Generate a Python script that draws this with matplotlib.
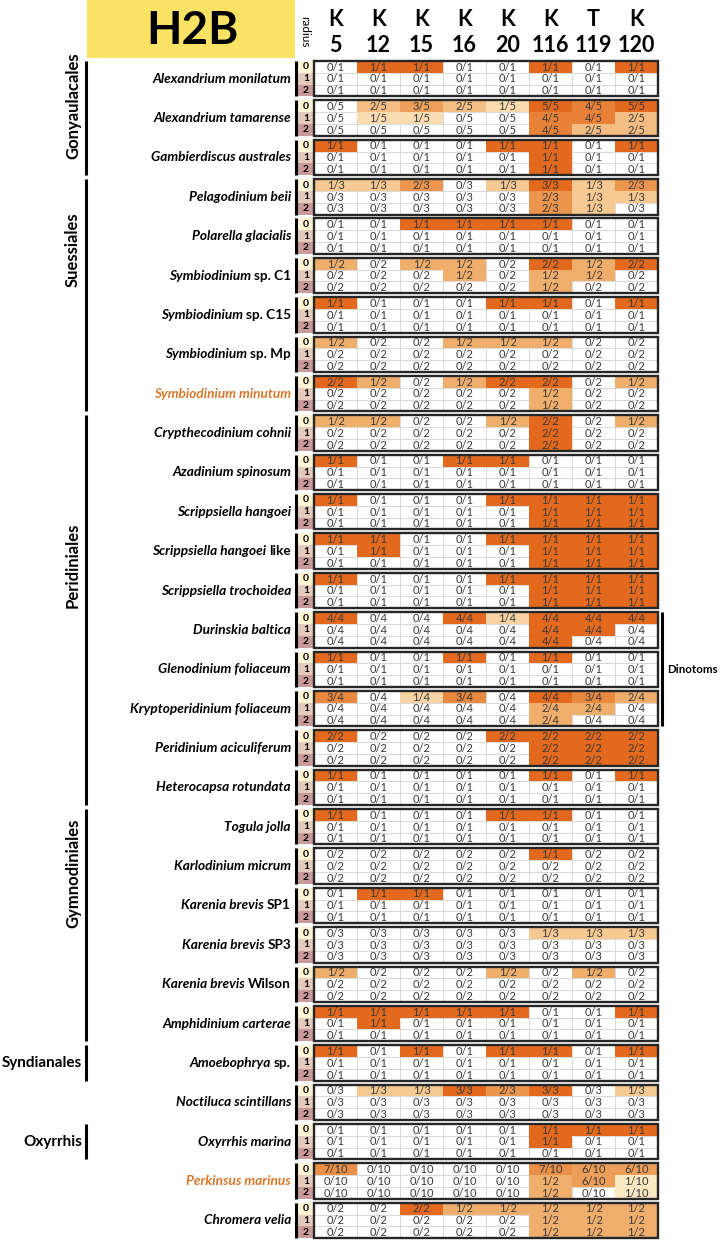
import matplotlib
matplotlib.use('Agg')
import matplotlib.pyplot as plt
from matplotlib.patches import Rectangle
from matplotlib.colors import LinearSegmentedColormap

plt.rcParams['font.family'] = ['Lato', 'DejaVu Sans']

# ---------------- data ----------------
title = "H2B"
residues = ['K', 'K', 'K', 'K', 'K', 'K', 'T', 'K']
positions = ['5', '12', '15', '16', '20', '116', '119', '120']
radius_labels = ['0', '1', '2']

# (italic part, upright part)
species_names = [
    ("Alexandrium monilatum", ""),
    ("Alexandrium tamarense", ""),
    ("Gambierdiscus australes", ""),
    ("Pelagodinium beii", ""),
    ("Polarella glacialis", ""),
    ("Symbiodinium", "sp. C1"),
    ("Symbiodinium", "sp. C15"),
    ("Symbiodinium", "sp. Mp"),
    ("Symbiodinium minutum", ""),
    ("Crypthecodinium cohnii", ""),
    ("Azadinium spinosum", ""),
    ("Scrippsiella hangoei", ""),
    ("Scrippsiella hangoei", "like"),
    ("Scrippsiella trochoidea", ""),
    ("Durinskia baltica", ""),
    ("Glenodinium foliaceum", ""),
    ("Kryptoperidinium foliaceum", ""),
    ("Peridinium aciculiferum", ""),
    ("Heterocapsa rotundata", ""),
    ("Togula jolla", ""),
    ("Karlodinium micrum", ""),
    ("Karenia brevis", "SP1"),
    ("Karenia brevis", "SP3"),
    ("Karenia brevis", "Wilson"),
    ("Amphidinium carterae", ""),
    ("Amoebophrya", "sp."),
    ("Noctiluca scintillans", ""),
    ("Oxyrrhis marina", ""),
    ("Perkinsus marinus", ""),
    ("Chromera velia", ""),
]
highlighted = ["Symbiodinium minutum", "Perkinsus marinus"]

cells = [
    ["0/1 1/1 1/1 0/1 0/1 1/1 0/1 1/1", "0/1 0/1 0/1 0/1 0/1 0/1 0/1 0/1", "0/1 0/1 0/1 0/1 0/1 0/1 0/1 0/1"],
    ["0/5 2/5 3/5 2/5 1/5 5/5 4/5 5/5", "0/5 1/5 1/5 0/5 0/5 4/5 4/5 2/5", "0/5 0/5 0/5 0/5 0/5 4/5 2/5 2/5"],
    ["1/1 0/1 0/1 0/1 1/1 1/1 0/1 1/1", "0/1 0/1 0/1 0/1 0/1 1/1 0/1 0/1", "0/1 0/1 0/1 0/1 0/1 1/1 0/1 0/1"],
    ["1/3 1/3 2/3 0/3 1/3 3/3 1/3 2/3", "0/3 0/3 0/3 0/3 0/3 2/3 1/3 1/3", "0/3 0/3 0/3 0/3 0/3 2/3 1/3 0/3"],
    ["0/1 0/1 1/1 1/1 1/1 1/1 0/1 0/1", "0/1 0/1 0/1 0/1 0/1 0/1 0/1 0/1", "0/1 0/1 0/1 0/1 0/1 0/1 0/1 0/1"],
    ["1/2 0/2 1/2 1/2 0/2 2/2 1/2 2/2", "0/2 0/2 0/2 1/2 0/2 1/2 1/2 0/2", "0/2 0/2 0/2 0/2 0/2 1/2 0/2 0/2"],
    ["1/1 0/1 0/1 0/1 1/1 1/1 0/1 1/1", "0/1 0/1 0/1 0/1 0/1 0/1 0/1 0/1", "0/1 0/1 0/1 0/1 0/1 0/1 0/1 0/1"],
    ["1/2 0/2 0/2 1/2 1/2 1/2 0/2 0/2", "0/2 0/2 0/2 0/2 0/2 0/2 0/2 0/2", "0/2 0/2 0/2 0/2 0/2 0/2 0/2 0/2"],
    ["2/2 1/2 0/2 1/2 2/2 2/2 0/2 1/2", "0/2 0/2 0/2 0/2 0/2 1/2 0/2 0/2", "0/2 0/2 0/2 0/2 0/2 1/2 0/2 0/2"],
    ["1/2 1/2 0/2 0/2 1/2 2/2 0/2 1/2", "0/2 0/2 0/2 0/2 0/2 2/2 0/2 0/2", "0/2 0/2 0/2 0/2 0/2 2/2 0/2 0/2"],
    ["1/1 0/1 0/1 1/1 1/1 0/1 0/1 0/1", "0/1 0/1 0/1 0/1 0/1 0/1 0/1 0/1", "0/1 0/1 0/1 0/1 0/1 0/1 0/1 0/1"],
    ["1/1 0/1 0/1 0/1 1/1 1/1 1/1 1/1", "0/1 0/1 0/1 0/1 0/1 1/1 1/1 1/1", "0/1 0/1 0/1 0/1 0/1 1/1 1/1 1/1"],
    ["1/1 1/1 0/1 0/1 1/1 1/1 1/1 1/1", "0/1 1/1 0/1 0/1 0/1 1/1 1/1 1/1", "0/1 0/1 0/1 0/1 0/1 1/1 1/1 1/1"],
    ["1/1 0/1 0/1 0/1 1/1 1/1 1/1 1/1", "0/1 0/1 0/1 0/1 0/1 1/1 1/1 1/1", "0/1 0/1 0/1 0/1 0/1 1/1 1/1 1/1"],
    ["4/4 0/4 0/4 4/4 1/4 4/4 4/4 4/4", "0/4 0/4 0/4 0/4 0/4 4/4 4/4 0/4", "0/4 0/4 0/4 0/4 0/4 4/4 0/4 0/4"],
    ["1/1 0/1 0/1 1/1 0/1 1/1 0/1 0/1", "0/1 0/1 0/1 0/1 0/1 0/1 0/1 0/1", "0/1 0/1 0/1 0/1 0/1 0/1 0/1 0/1"],
    ["3/4 0/4 1/4 3/4 0/4 4/4 3/4 2/4", "0/4 0/4 0/4 0/4 0/4 2/4 2/4 0/4", "0/4 0/4 0/4 0/4 0/4 2/4 0/4 0/4"],
    ["2/2 0/2 0/2 0/2 2/2 2/2 2/2 2/2", "0/2 0/2 0/2 0/2 0/2 2/2 2/2 2/2", "0/2 0/2 0/2 0/2 0/2 2/2 2/2 2/2"],
    ["1/1 0/1 0/1 0/1 0/1 1/1 0/1 1/1", "0/1 0/1 0/1 0/1 0/1 0/1 0/1 0/1", "0/1 0/1 0/1 0/1 0/1 0/1 0/1 0/1"],
    ["1/1 0/1 0/1 0/1 1/1 1/1 0/1 0/1", "0/1 0/1 0/1 0/1 0/1 0/1 0/1 0/1", "0/1 0/1 0/1 0/1 0/1 0/1 0/1 0/1"],
    ["0/2 0/2 0/2 0/2 0/2 1/1 0/2 0/2", "0/2 0/2 0/2 0/2 0/2 0/2 0/2 0/2", "0/2 0/2 0/2 0/2 0/2 0/2 0/2 0/2"],
    ["0/1 1/1 1/1 0/1 0/1 0/1 0/1 0/1", "0/1 0/1 0/1 0/1 0/1 0/1 0/1 0/1", "0/1 0/1 0/1 0/1 0/1 0/1 0/1 0/1"],
    ["0/3 0/3 0/3 0/3 0/3 1/3 1/3 1/3", "0/3 0/3 0/3 0/3 0/3 0/3 0/3 0/3", "0/3 0/3 0/3 0/3 0/3 0/3 0/3 0/3"],
    ["1/2 0/2 0/2 0/2 1/2 0/2 1/2 0/2", "0/2 0/2 0/2 0/2 0/2 0/2 0/2 0/2", "0/2 0/2 0/2 0/2 0/2 0/2 0/2 0/2"],
    ["1/1 1/1 1/1 1/1 1/1 0/1 0/1 1/1", "0/1 1/1 0/1 0/1 0/1 0/1 0/1 0/1", "0/1 0/1 0/1 0/1 0/1 0/1 0/1 0/1"],
    ["1/1 0/1 1/1 0/1 1/1 1/1 0/1 1/1", "0/1 0/1 0/1 0/1 0/1 0/1 0/1 0/1", "0/1 0/1 0/1 0/1 0/1 0/1 0/1 0/1"],
    ["0/3 1/3 1/3 3/3 2/3 3/3 0/3 1/3", "0/3 0/3 0/3 0/3 0/3 0/3 0/3 0/3", "0/3 0/3 0/3 0/3 0/3 0/3 0/3 0/3"],
    ["0/1 0/1 0/1 0/1 0/1 1/1 1/1 1/1", "0/1 0/1 0/1 0/1 0/1 1/1 0/1 0/1", "0/1 0/1 0/1 0/1 0/1 0/1 0/1 0/1"],
    ["7/10 0/10 0/10 0/10 0/10 7/10 6/10 6/10", "0/10 0/10 0/10 0/10 0/10 1/2 6/10 1/10", "0/10 0/10 0/10 0/10 0/10 1/2 0/10 1/10"],
    ["0/2 0/2 2/2 1/2 1/2 1/2 1/2 1/2", "0/2 0/2 0/2 0/2 0/2 1/2 1/2 1/2", "0/2 0/2 0/2 0/2 0/2 1/2 1/2 1/2"],
]

# order groups: (name, first block, last block, orientation)
groups = [
    ("Gonyaulacales", 0, 2, 'v'),
    ("Suessiales", 3, 8, 'v'),
    ("Peridiniales", 9, 18, 'v'),
    ("Gymnodiniales", 19, 24, 'v'),
    ("Syndianales", 25, 25, 'h'),
    ("Oxyrrhis", 27, 27, 'h'),
]
bracket_label = "Dinotoms"
bracket_blocks = (14, 16)

# ---------------- style / layout ----------------
W, H = 721, 1242
fig = plt.figure(figsize=(W / 100, H / 100), dpi=100)
ax = fig.add_axes([0, 0, 1, 1])
ax.set_xlim(0, W)
ax.set_ylim(H, 0)
ax.axis('off')

cmap = LinearSegmentedColormap.from_list(
    'h2b', [(0.0, '#ffffff'), (0.05, '#fdedcc'), (0.2, '#fadcb0'),
            (0.5, '#f0ae6c'), (0.75, '#e9883f'), (1.0, '#e2691d')])
rad_colors = ['#fff4d4', '#e6cbbc', '#c99a9a']
orange_txt = '#d9772b'

X0, CW = 314, 43
RX0, RW = 298, 16
Y0, PITCH, RH = 61, 39.37, 11.8
LBL_X = 291
# vertical group labels sit in the upper part of their bracket
label_shift = {"Gonyaulacales": 12, "Suessiales": 46, "Peridiniales": 45, "Gymnodiniales": 52}

# title box
ax.add_patch(Rectangle((87, 0), 208, 58, fc='#f9e264', ec='none'))
ax.text(192, 31, title, ha='center', va='center', fontsize=33, fontweight='bold')
ax.text(305, 32, 'radius', rotation=270, ha='center', va='center', fontsize=8.5)

for c, (res, pos) in enumerate(zip(residues, positions)):
    xc = X0 + c * CW + CW / 2
    ax.text(xc, 19, res, ha='center', va='center', fontsize=15.5, fontweight='bold')
    ax.text(xc, 46, pos, ha='center', va='center', fontsize=15.5, fontweight='bold')

renderer = fig.canvas.get_renderer()

for b, (name, rows) in enumerate(zip(species_names, cells)):
    top = Y0 + b * PITCH
    for r, rowstr in enumerate(rows):
        y = top + r * RH
        ax.add_patch(Rectangle((RX0, y), RW, RH, fc=rad_colors[r], ec='none'))
        ax.text(RX0 + RW / 2, y + RH / 2, radius_labels[r], ha='center', va='center',
                fontsize=7.5, fontweight='bold')
        for c, frac in enumerate(rowstr.split()):
            n, d = map(int, frac.split('/'))
            v = n / d
            if v > 0:
                ax.add_patch(Rectangle((X0 + c * CW, y), CW, RH, fc=cmap(v), ec='none', zorder=2))
            else:
                ax.add_patch(Rectangle((X0 + c * CW, y), CW, RH, fc='white', ec='#d4d4d4',
                                       lw=0.6, zorder=1))
            ax.text(X0 + c * CW + CW / 2, y + RH / 2 + 0.3, frac, ha='center', va='center',
                    fontsize=8, color='#383838', zorder=4)
    ax.add_patch(Rectangle((X0, top), 8 * CW, 3 * RH, fill=False, ec='#262626', lw=1.7, zorder=5))
    ax.plot([296, 296], [top, top + 3 * RH], color='black', lw=2.2, solid_capstyle='butt')

    # species label
    ital, upr = name
    full = (ital + (' ' + upr if upr else '')).strip()
    col = orange_txt if full in highlighted else 'black'
    ym = top + 1.5 * RH
    xr = LBL_X
    if upr:
        t = ax.text(xr, ym, upr, ha='right', va='center', fontsize=9.8, fontweight='bold', color=col)
        w = t.get_window_extent(renderer).width
        xr = xr - w - 3
    ax.text(xr, ym, ital, ha='right', va='center', fontsize=9.8, fontweight='bold',
            style='italic', color=col)

# group brackets
for gname, g0, g1, orient in groups:
    top = Y0 + g0 * PITCH
    bot = Y0 + g1 * PITCH + 3 * RH
    ax.plot([86, 86], [top, bot], color='black', lw=2.2, solid_capstyle='butt')
    if orient == 'v':
        ax.text(73, (top + bot) / 2 - label_shift.get(gname, 0), gname, rotation=90,
                ha='center', va='center', fontsize=12, fontweight='bold')
    else:
        ax.text(82, (top + bot) / 2, gname, ha='right', va='center',
                fontsize=11, fontweight='bold')

# dinotoms bracket
btop = Y0 + bracket_blocks[0] * PITCH
bbot = Y0 + bracket_blocks[1] * PITCH + 3 * RH
ax.plot([662, 662], [btop, bbot], color='black', lw=2.2, solid_capstyle='butt')
ax.text(667, (btop + bbot) / 2, bracket_label, ha='left', va='center', fontsize=8.3,
        fontweight='bold')

fig.savefig('out.png', dpi=100)
